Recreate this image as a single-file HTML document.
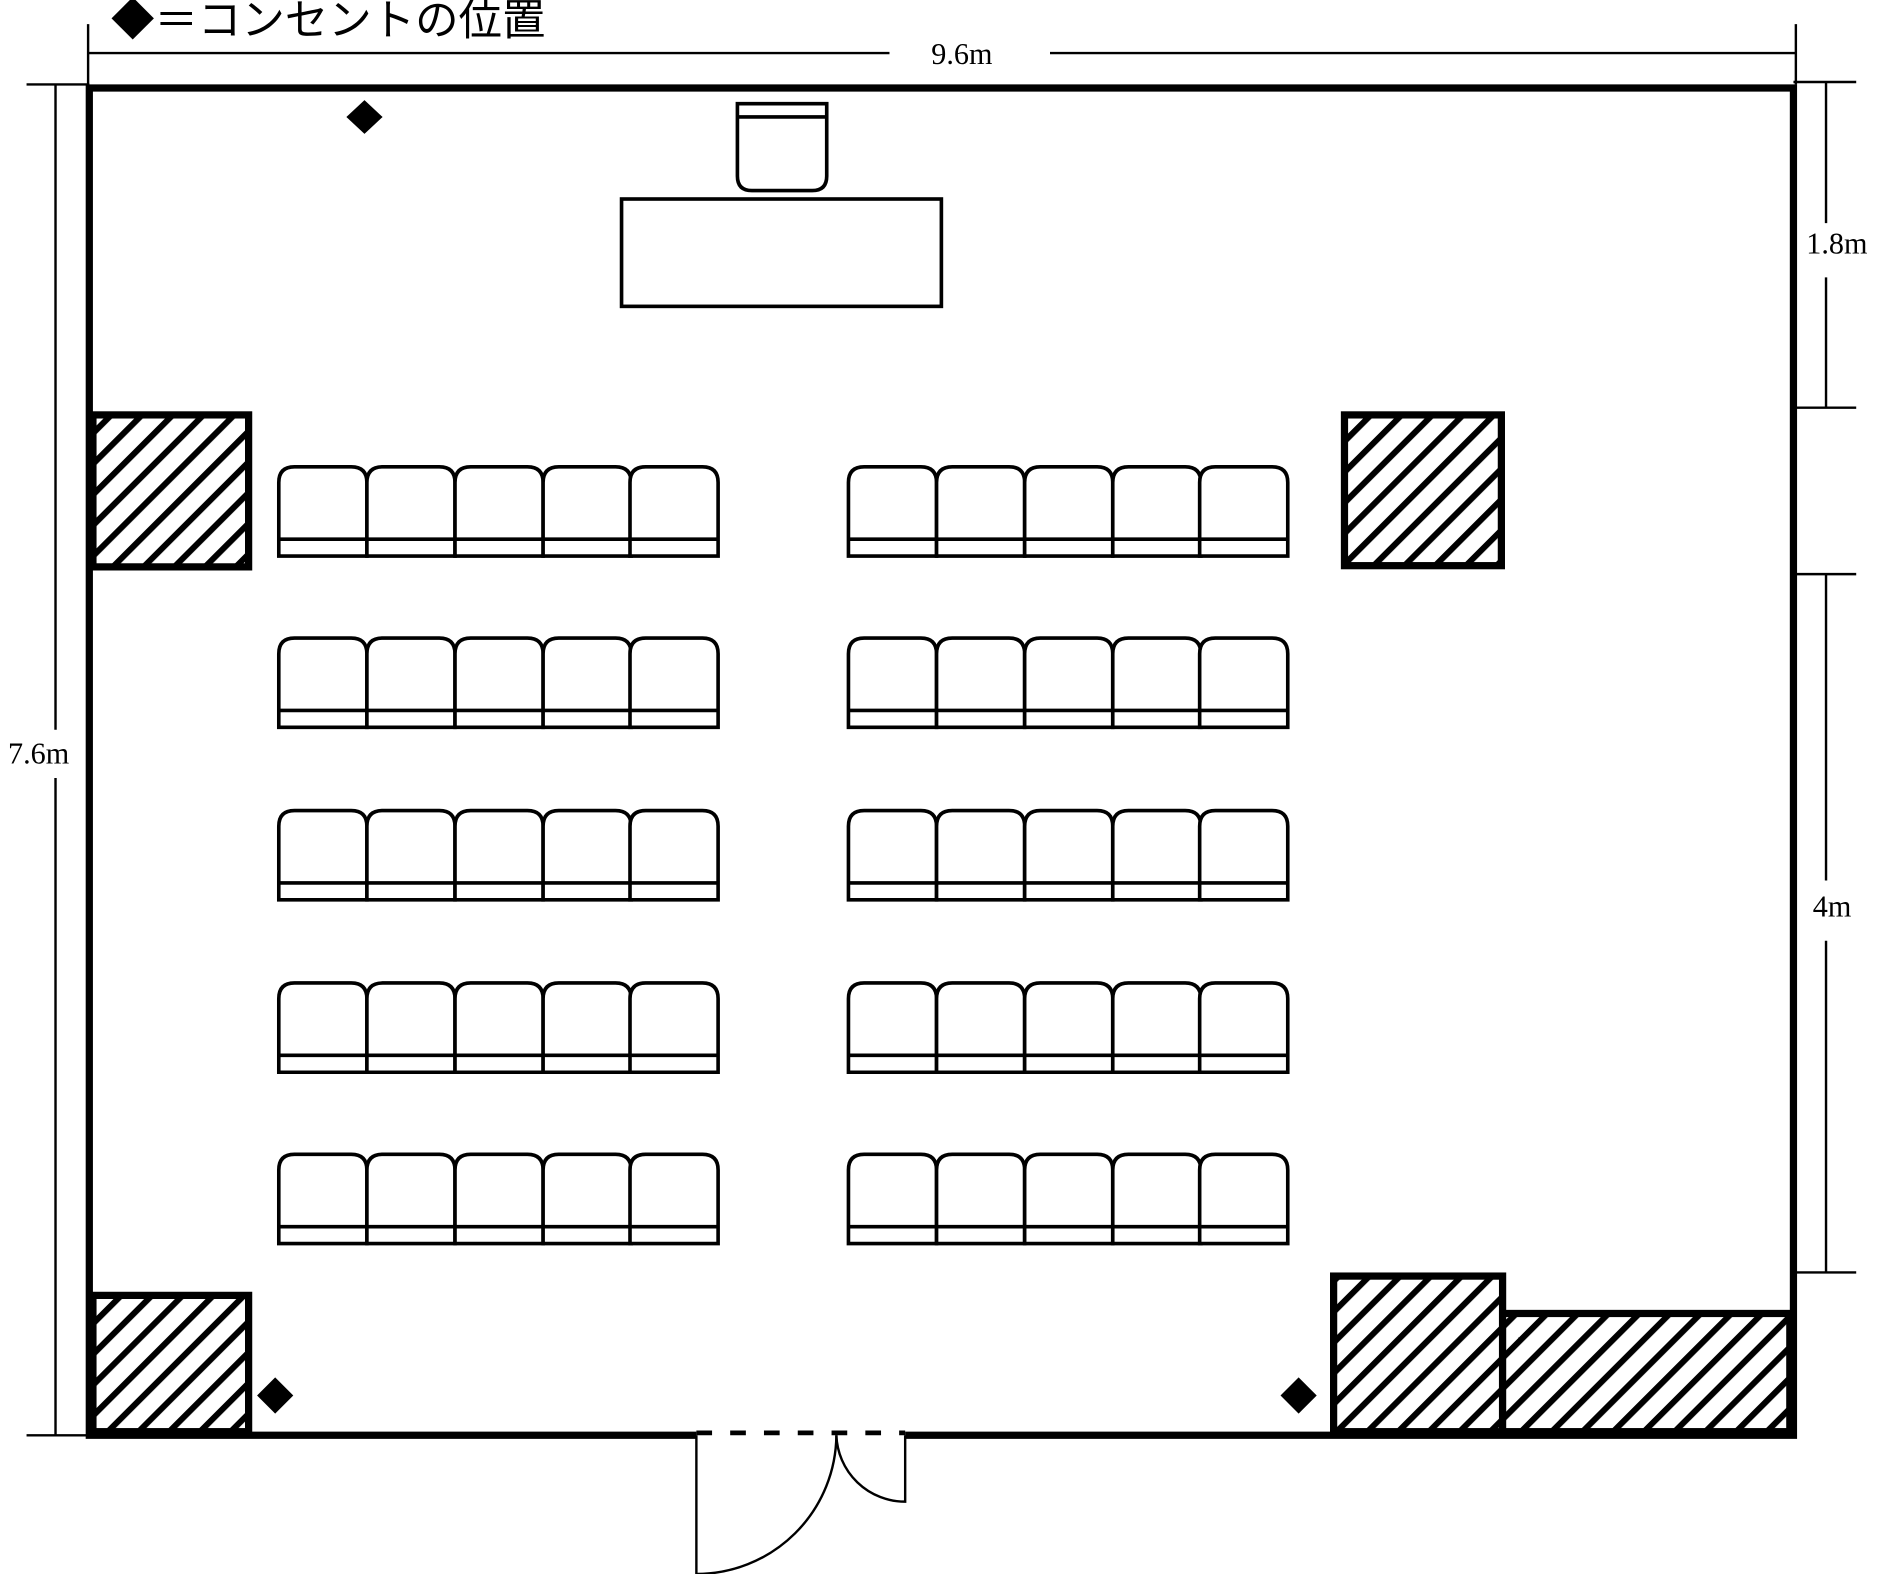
<!DOCTYPE html>
<html><head><meta charset="utf-8"><style>
html,body{margin:0;padding:0;background:#fff;}
svg{display:block;}
</style></head><body>
<svg width="1890" height="1574" viewBox="0 0 1566 1305" preserveAspectRatio="none" xmlns="http://www.w3.org/2000/svg">
<defs>
<pattern id="h" patternUnits="userSpaceOnUse" width="18" height="18" patternTransform="rotate(45)">
<rect width="18" height="18" fill="#fff"/>
<rect x="0" y="0" width="5" height="18" fill="#000"/>
</pattern>
<g id="seat" fill="#fff" stroke="#000" stroke-width="3">
<path d="M0,74 V13 Q0,0 13,0 H60 Q73,0 73,13 V74 Z"/>
<line x1="0" y1="60" x2="73" y2="60"/>
</g>
<g id="row">
<use href="#seat" x="0"/><use href="#seat" x="73"/><use href="#seat" x="146"/><use href="#seat" x="219"/><use href="#seat" x="291"/>
</g>
</defs>
<rect width="1566" height="1305" fill="#fff"/>
<text x="92" y="29" font-family="'Liberation Sans','Noto Sans CJK JP',sans-serif" font-size="36">◆＝コンセントの位置</text>
<g stroke="#000" stroke-width="2" fill="none">
<line x1="73" y1="20" x2="73" y2="72"/><line x1="1488" y1="20" x2="1488" y2="70"/>
<line x1="73" y1="44" x2="737" y2="44"/><line x1="870" y1="44" x2="1488" y2="44"/>
<line x1="46" y1="70" x2="46" y2="605"/><line x1="46" y1="645" x2="46" y2="1190"/>
<line x1="22" y1="70" x2="74" y2="70"/><line x1="22" y1="1190" x2="74" y2="1190"/>
<line x1="1513" y1="68" x2="1513" y2="185"/><line x1="1513" y1="230" x2="1513" y2="338"/>
<line x1="1486" y1="68" x2="1538" y2="68"/><line x1="1486" y1="338" x2="1538" y2="338"/>
<line x1="1513" y1="476" x2="1513" y2="730"/><line x1="1513" y1="780" x2="1513" y2="1055"/>
<line x1="1486" y1="476" x2="1538" y2="476"/><line x1="1486" y1="1055" x2="1538" y2="1055"/>
</g>
<g font-family="'Liberation Serif',serif" font-size="25" fill="#000">
<text x="797" y="53" text-anchor="middle">9.6m</text>
<text x="32" y="633" text-anchor="middle">7.6m</text>
<text x="1522" y="210" text-anchor="middle">1.8m</text>
<text x="1518" y="760" text-anchor="middle">4m</text>
</g>
<g stroke="#000" stroke-width="6" fill="url(#h)">
<rect x="77" y="344" width="129" height="126"/>
<rect x="1114" y="344" width="130" height="125"/>
<rect x="77" y="1074" width="129" height="113"/>
<rect x="1105" y="1058" width="140" height="129"/>
<rect x="1245" y="1089" width="238" height="98"/>
</g>
<path d="M577,1190 H74 V73 H1486 V1190 H750" fill="none" stroke="#000" stroke-width="6"/>
<line x1="577" y1="1188" x2="750" y2="1188" stroke="#000" stroke-width="4" stroke-dasharray="13,15"/>
<g fill="none" stroke="#000" stroke-width="2">
<path d="M577,1190 V1305 A116,116 0 0 0 693,1190"/>
<path d="M750,1190 V1245 A57,57 0 0 1 693,1190"/>
</g>
<g fill="#000">
<path d="M302,83 L317,97 L302,111 L287,97 Z"/>
<path d="M228,1142 L243,1157 L228,1172 L213,1157 Z"/>
<path d="M1076,1142 L1091,1157 L1076,1172 L1061,1157 Z"/>
</g>
<g fill="#fff" stroke="#000" stroke-width="3">
<path d="M611,86 H685 V146 Q685,158 673,158 H623 Q611,158 611,146 Z"/>
<line x1="611" y1="97" x2="685" y2="97"/>
<rect x="515" y="165" width="265" height="89"/>
</g>
<use href="#row" x="231" y="387"/><use href="#row" x="703" y="387"/>
<use href="#row" x="231" y="529"/><use href="#row" x="703" y="529"/>
<use href="#row" x="231" y="672"/><use href="#row" x="703" y="672"/>
<use href="#row" x="231" y="815"/><use href="#row" x="703" y="815"/>
<use href="#row" x="231" y="957"/><use href="#row" x="703" y="957"/>
</svg>
</body></html>
